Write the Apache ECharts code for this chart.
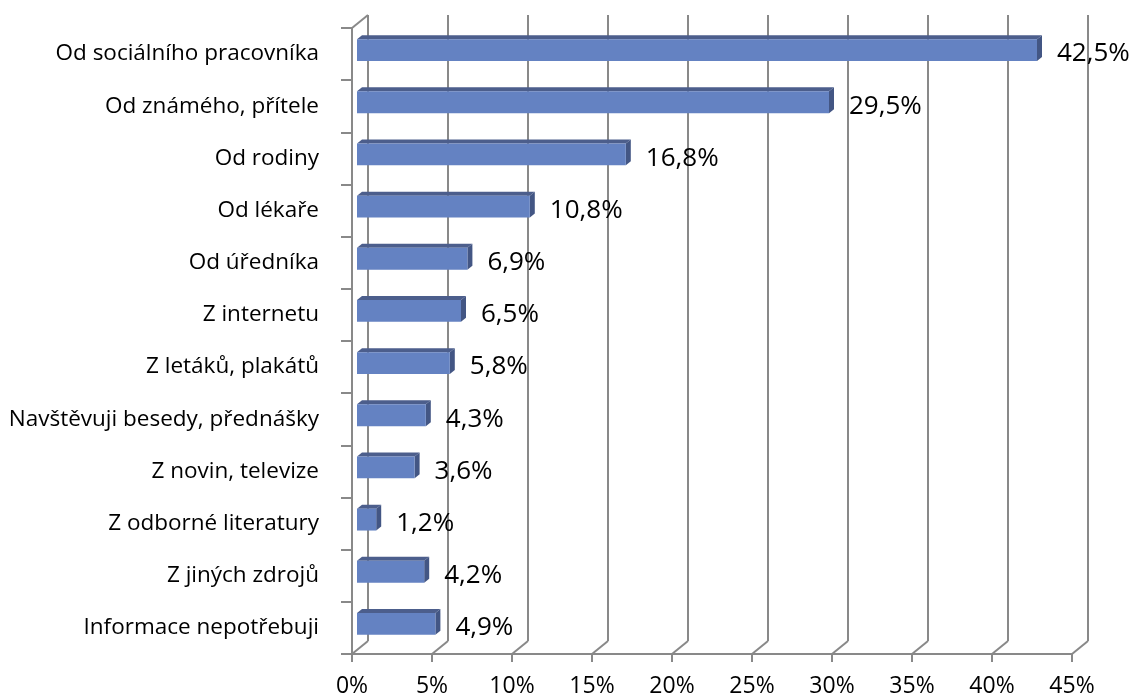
<!DOCTYPE html>
<html>
<head>
<meta charset="utf-8">
<script src="https://cdn.jsdelivr.net/npm/echarts@6/dist/echarts.min.js"></script>
<style>
  html, body { margin: 0; padding: 0; background: #fff; }
  #chart { width: 1136px; height: 696px; }
</style>
</head>
<body>
<div id="chart"></div>
<script>
// categories, top to bottom
var categories = [
	'Od sociálního pracovníka',
	'Od známého, přítele',
	'Od rodiny',
	'Od lékaře',
	'Od úředníka',
	'Z internetu',
	'Z letáků, plakátů',
	'Navštěvuji besedy, přednášky',
	'Z novin, televize',
	'Z odborné literatury',
	'Z jiných zdrojů',
	'Informace nepotřebuji'
];

// share of respondents, in %
var shares = [42.5, 29.5, 16.8, 10.8, 6.9, 6.5, 5.8, 4.3, 3.6, 1.2, 4.2, 4.9];

// value axis ticks
var axisTicks = [0, 5, 10, 15, 20, 25, 30, 35, 40, 45];

// 3d look: depth of the back wall and of a bar
var DX = 16, DY = -13;
var BAR_DX = 5, BAR_DY = -4;
var BAR_SHIFT_X = 5, BAR_SHIFT_Y = -4;

var GRID_COLOR = '#898989';
var FONT = 'Open Sans';

var front = { left: 352, right: 64, top: 28, bottom: 42 };
var back = {
	left: front.left + DX,
	right: front.right - DX,
	top: front.top + DY,
	bottom: front.bottom - DY
};

var chart = echarts.init(document.getElementById('chart'));

var fmt = v => v.toFixed(1).replace('.', ',') + '%';

// floor diagonals and the top-left corner of the wall
var renderFloor = (params, api) => {
	var v = api.value(0);
	var bottom = api.coord([v, categories.length - 1]);
	var band = api.size([0, 1])[1];
	var y = bottom[1] + band / 2;
	var lineStyle = { stroke: GRID_COLOR, lineWidth: 2 };
	var children = [{
		type: 'line',
		shape: { x1: bottom[0], y1: y, x2: bottom[0] + DX, y2: y + DY },
		style: lineStyle
	}];
	if (v === 0) {
		var top = api.coord([0, 0]);
		var yTop = top[1] - band / 2;
		children.push({
			type: 'line',
			shape: { x1: top[0], y1: yTop, x2: top[0] + DX, y2: yTop + DY },
			style: lineStyle
		});
	}
	return { type: 'group', children: children };
};

// one 3d bar with its label
var renderBar = (params, api) => {
	var idx = api.value(1);
	var v = api.value(0);
	var start = api.coord([0, idx]);
	var end = api.coord([v, idx]);
	var h = api.size([0, 1])[1] * 0.42;
	var x0 = start[0] + BAR_SHIFT_X;
	var x1 = end[0] + BAR_SHIFT_X;
	var y0 = start[1] + BAR_SHIFT_Y - h / 2;
	var y1 = y0 + h;
	return {
		type: 'group',
		children: [
			{
				type: 'polygon',
				shape: { points: [[x0, y0], [x0 + BAR_DX, y0 + BAR_DY], [x1 + BAR_DX, y0 + BAR_DY], [x1, y0]] },
				style: { fill: '#4c5e8c' }
			},
			{
				type: 'polygon',
				shape: { points: [[x1, y0], [x1 + BAR_DX, y0 + BAR_DY], [x1 + BAR_DX, y1 + BAR_DY], [x1, y1]] },
				style: { fill: '#435684' }
			},
			{
				type: 'rect',
				shape: { x: x0, y: y0, width: x1 - x0, height: h },
				style: { fill: '#6482c2' }
			},
			{
				type: 'text',
				x: x1 + BAR_DX + 15,
				y: start[1],
				style: {
					text: fmt(v),
					fill: '#000',
					font: '26px "' + FONT + '"',
					verticalAlign: 'middle',
					align: 'left'
				}
			}
		]
	};
};

var option = {
	animation: false,
	grid: [
		Object.assign({ containLabel: false, outerBoundsMode: 'none' }, front),
		Object.assign({ containLabel: false, outerBoundsMode: 'none' }, back)
	],
	xAxis: [
		{
			gridIndex: 0,
			type: 'value',
			min: 0,
			max: 45,
			interval: 5,
			axisLine: { show: true, lineStyle: { color: GRID_COLOR, width: 2 } },
			axisTick: { show: true, length: 8, lineStyle: { color: GRID_COLOR, width: 2 } },
			axisLabel: {
				formatter: '{value}%',
				color: '#000',
				fontFamily: FONT,
				fontSize: 23,
				margin: 21
			},
			splitLine: { show: false }
		},
		{
			gridIndex: 1,
			type: 'value',
			min: 0,
			max: 45,
			interval: 5,
			axisLine: { show: false },
			axisTick: { show: false },
			axisLabel: { show: false },
			splitLine: { show: true, lineStyle: { color: GRID_COLOR, width: 2 } }
		}
	],
	yAxis: [
		{
			gridIndex: 0,
			type: 'category',
			inverse: true,
			data: categories,
			axisLine: { show: true, lineStyle: { color: GRID_COLOR, width: 2 } },
			axisTick: { show: true, length: 11, lineStyle: { color: GRID_COLOR, width: 2 } },
			axisLabel: {
				color: '#000',
				fontFamily: FONT,
				fontSize: 22.5,
				margin: 33
			}
		},
		{
			gridIndex: 1,
			type: 'category',
			inverse: true,
			data: categories,
			show: false
		}
	],
	series: [
		{
			type: 'custom',
			xAxisIndex: 0,
			yAxisIndex: 0,
			renderItem: renderFloor,
			data: axisTicks.map(t => [t, 0]),
			silent: true,
			z: 1
		},
		{
			type: 'custom',
			xAxisIndex: 0,
			yAxisIndex: 0,
			renderItem: renderBar,
			data: shares.map((v, i) => [v, i]),
			z: 5
		}
	]
};

chart.setOption(option);
</script>
</body>
</html>
